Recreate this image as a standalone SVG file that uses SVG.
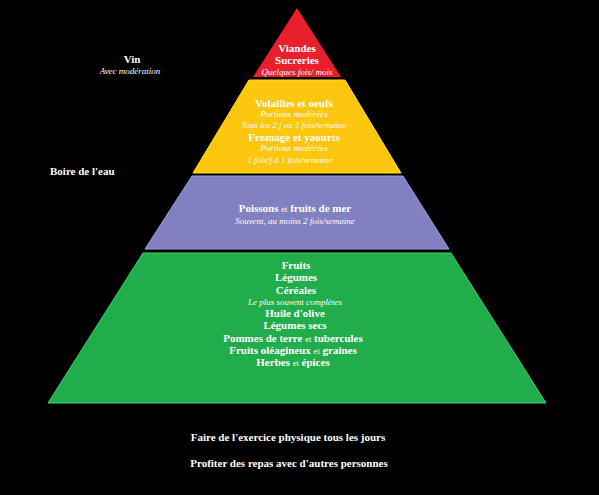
<svg xmlns="http://www.w3.org/2000/svg" width="599" height="495" viewBox="0 0 599 495">
<style>
text{font-family:"Liberation Serif","DejaVu Serif",serif;fill:#ffffff;text-anchor:middle}
.b{font-weight:bold;font-size:11px}
.i{font-style:italic;font-size:9px}
.s{font-weight:normal;font-size:8.5px}
.l{text-anchor:start}
</style>
<rect x="0" y="0" width="599" height="495" fill="#000000"/>
<g id="tier-red">
<polygon points="297,8 341,77 253,77" fill="#E8202E"/>
<text class="b" x="297" y="52">Viandes</text>
<text class="b" x="297" y="64">Sucreries</text>
<text class="i" x="297" y="75">Quelques fois/ mois</text>
</g>
<g id="tier-yellow">
<polygon points="249,80 345,80 401,173 193,173" fill="#FDC70F" stroke="#FFE01A" stroke-width="1"/>
<text class="b" x="294" y="107">Volailles et oeufs</text>
<text class="i" x="294" y="117">Portions modérées</text>
<text class="i" x="294" y="128">Tous les 2 j ou 1 fois/semaine</text>
<text class="b" x="294" y="141">Fromage et yaourts</text>
<text class="i" x="294" y="151">Portions modérées</text>
<text class="i" x="290" y="163">1 fois/j à 1 fois/semaine</text>
</g>
<g id="tier-purple">
<polygon points="192,176 403,176 449,249 145,249" fill="#8180C1" stroke="#9C9CE0" stroke-width="1"/>
<text class="b" x="295" y="212">Poissons <tspan class="s">et</tspan> fruits de mer</text>
<text class="i" x="295" y="224">Souvent, au moins 2 fois/semaine</text>
</g>
<g id="tier-green">
<polygon points="143,253 451,253 546,403 48,403" fill="#21AD4B" stroke="#3DD76B" stroke-width="1"/>
<text class="b" x="296" y="269">Fruits</text>
<text class="b" x="296" y="281">Légumes</text>
<text class="b" x="296" y="294">Céréales</text>
<text class="i" x="295" y="305">Le plus souvent complètes</text>
<text class="b" x="295" y="317">Huile d'olive</text>
<text class="b" x="295" y="329">Légumes secs</text>
<text class="b" x="293" y="342">Pommes de terre <tspan class="s">et</tspan> tubercules</text>
<text class="b" x="293" y="354">Fruits oléagineux <tspan class="s">et</tspan> graines</text>
<text class="b" x="293" y="366">Herbes <tspan class="s">et</tspan> épices</text>
</g>
<g id="side-wine">
<text class="b" x="132" y="63">Vin</text>
<text class="i" x="130" y="74">Avec modération</text>
</g>
<g id="side-water">
<text class="b l" x="50" y="175">Boire de l'eau</text>
</g>
<g id="footer">
<text class="b" x="288" y="441">Faire de l'exercice physique tous les jours</text>
<text class="b" x="289" y="467">Profiter des repas avec d'autres personnes</text>
</g>
<g id="connectors"/>
</svg>
